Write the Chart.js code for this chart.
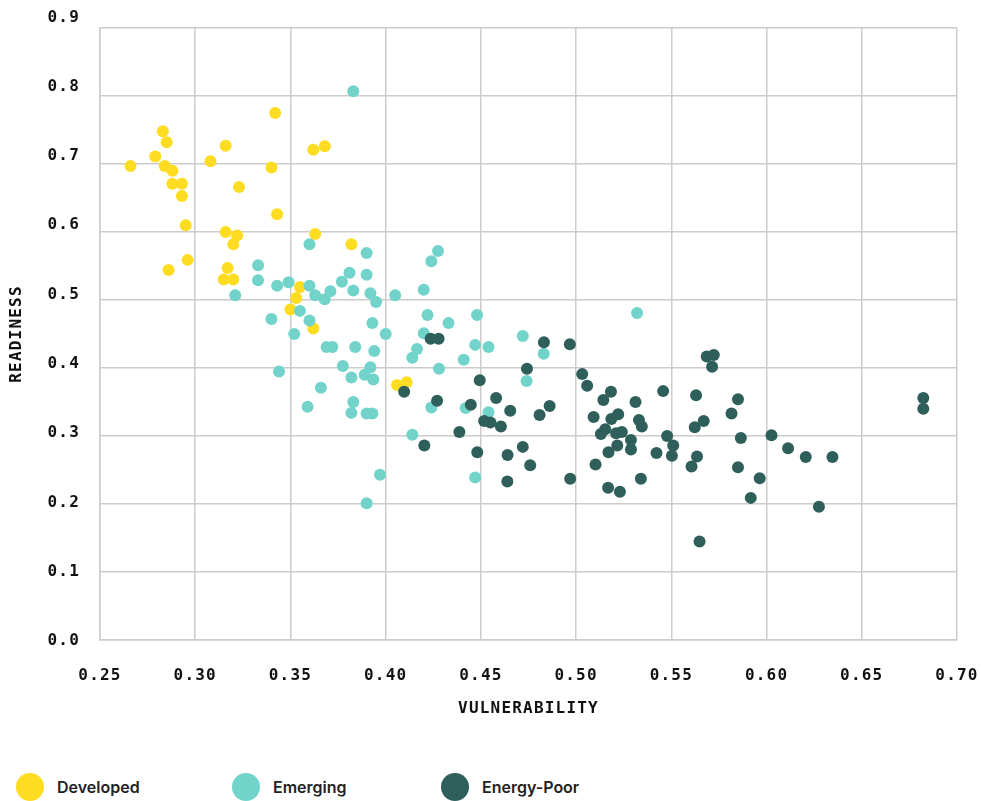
<!DOCTYPE html>
<html>
<head>
<meta charset="utf-8">
<script src="https://cdn.jsdelivr.net/npm/chart.js@4/dist/chart.umd.min.js"></script>
<style>
html,body{margin:0;padding:0;background:#fff;overflow:hidden;width:981px;height:801px;}
#wrap{position:absolute;left:0;top:0;width:981px;height:725px;}
.leg{position:absolute;top:772px;height:29px;display:flex;align-items:center;font-family:Inter,'Noto Sans',sans-serif;font-weight:600;font-size:16px;color:#222;white-space:nowrap;}
.dot{display:inline-block;width:28px;height:28px;border-radius:50%;margin-right:13px;flex:none;}
</style>
</head>
<body>
<div id="wrap"><canvas id="c"></canvas></div>
<div class="leg" style="left:16px"><span class="dot" style="background:#FEDC22"></span>Developed</div>
<div class="leg" style="left:232px"><span class="dot" style="background:#72D3CB"></span>Emerging</div>
<div class="leg" style="left:441px"><span class="dot" style="background:#2F5F5A"></span>Energy-Poor</div>
<script>
// ---- Data ----
const seriesNames = ['Developed', 'Emerging', 'Energy-Poor'];
const xTickLabels = ['0.25','0.30','0.35','0.40','0.45','0.50','0.55','0.60','0.65','0.70'];
const yTickValues = [0,0.1,0.2,0.3,0.4,0.5,0.6,0.7,0.8,0.9];
const yTickLabels = ['0.0','0.1','0.2','0.3','0.4','0.5','0.6','0.7','0.8','0.9'];

const developedX = [0.342,0.283,0.285,0.316,0.362,0.368,0.279,0.308,0.266,0.284,0.340,0.288,0.288,0.293,0.323,0.293,0.343,0.295,0.316,0.322,0.363,0.320,0.382,0.296,0.286,0.317,0.315,0.320,0.355,0.353,0.350,0.362,0.406,0.411];
const developedY = [0.775,0.748,0.732,0.727,0.721,0.726,0.711,0.704,0.697,0.697,0.695,0.690,0.671,0.671,0.666,0.653,0.626,0.610,0.600,0.595,0.597,0.582,0.582,0.559,0.544,0.547,0.530,0.530,0.519,0.503,0.486,0.458,0.375,0.379];

const emergingX = [0.383,0.333,0.333,0.343,0.349,0.360,0.360,0.321,0.363,0.390,0.4275,0.424,0.381,0.390,0.377,0.368,0.371,0.383,0.392,0.395,0.405,0.420,0.422,0.420,0.355,0.340,0.360,0.352,0.393,0.400,0.369,0.372,0.384,0.394,0.4165,0.414,0.3775,0.392,0.389,0.3935,0.382,0.344,0.366,0.428,0.424,0.383,0.359,0.382,0.390,0.393,0.414,0.441,0.433,0.448,0.447,0.454,0.472,0.483,0.474,0.442,0.454,0.447,0.397,0.390,0.532];
const emergingY = [0.807,0.551,0.529,0.521,0.526,0.582,0.521,0.507,0.507,0.569,0.572,0.557,0.540,0.537,0.527,0.501,0.513,0.514,0.510,0.497,0.507,0.515,0.478,0.451,0.484,0.472,0.470,0.450,0.466,0.450,0.431,0.431,0.431,0.425,0.428,0.415,0.403,0.401,0.390,0.383,0.386,0.395,0.371,0.399,0.342,0.350,0.343,0.334,0.333,0.333,0.302,0.412,0.466,0.478,0.434,0.431,0.447,0.421,0.381,0.341,0.335,0.239,0.243,0.201,0.481];

const energyPoorX = [0.4236,0.4278,0.4097,0.4494,0.458,0.427,0.4447,0.4517,0.455,0.4605,0.4387,0.4203,0.4481,0.4831,0.4967,0.4742,0.5032,0.5058,0.5183,0.5143,0.4654,0.4861,0.4808,0.5092,0.5185,0.5221,0.5153,0.513,0.521,0.524,0.5216,0.5288,0.5288,0.517,0.5102,0.464,0.472,0.4759,0.4639,0.4969,0.5168,0.523,0.5312,0.5457,0.5686,0.5723,0.5714,0.563,0.585,0.5816,0.533,0.5345,0.534,0.5478,0.551,0.5503,0.5422,0.5623,0.567,0.5635,0.5606,0.5865,0.6026,0.585,0.5964,0.5917,0.5648,0.6823,0.6823,0.6113,0.6206,0.6346,0.6275];
const energyPoorY = [0.443,0.443,0.365,0.382,0.356,0.352,0.346,0.322,0.320,0.314,0.306,0.286,0.276,0.438,0.435,0.399,0.391,0.374,0.365,0.353,0.337,0.344,0.331,0.328,0.325,0.332,0.310,0.303,0.304,0.306,0.286,0.294,0.280,0.276,0.258,0.272,0.284,0.257,0.233,0.237,0.224,0.218,0.350,0.366,0.417,0.419,0.402,0.360,0.354,0.333,0.3235,0.314,0.237,0.300,0.286,0.271,0.275,0.313,0.322,0.270,0.255,0.297,0.301,0.254,0.238,0.209,0.145,0.356,0.340,0.282,0.269,0.269,0.196];

const toPoints = (xs, ys) => xs.map((x, i) => ({x: x, y: ys[i]}));

const spacingPlugin = {
  id: 'letterSpacing',
  beforeUpdate(c) { c.ctx.letterSpacing = '1.2px'; },
  beforeLayout(c) { c.ctx.letterSpacing = '1.2px'; },
  beforeDraw(c) { c.ctx.letterSpacing = '1.2px'; }
};

const axisFont = {family: "'DejaVu Sans Mono', 'Liberation Mono', monospace", weight: 'bold', size: 16};
const gridColor = '#cccccc';

new Chart(document.getElementById('c'), {
  type: 'scatter',
  data: {
    datasets: [
      {label: seriesNames[0], data: toPoints(developedX, developedY), backgroundColor: '#FEDC22', order: 3},
      {label: seriesNames[1], data: toPoints(emergingX, emergingY), backgroundColor: '#72D3CB', order: 2},
      {label: seriesNames[2], data: toPoints(energyPoorX, energyPoorY), backgroundColor: '#2F5F5A', order: 1}
    ]
  },
  options: {
    responsive: true,
    maintainAspectRatio: false,
    animation: false,
    layout: {padding: {top: 28, right: 24, left: 0, bottom: 0}},
    elements: {point: {radius: 6, hoverRadius: 6, borderWidth: 0}},
    plugins: {legend: {display: false}, tooltip: {enabled: false}},
    scales: {
      x: {
        type: 'linear', min: 0.25, max: 0.70,
        ticks: {stepSize: 0.05, padding: 26, color: '#111', font: axisFont,
                callback: (v, i) => xTickLabels[i]},
        grid: {color: gridColor, lineWidth: 1.5, drawTicks: false},
        border: {color: gridColor, width: 1.5},
        title: {display: true, text: 'VULNERABILITY', color: '#111', font: axisFont, padding: {top: 0, bottom: 7}},
        afterFit(s) { s.height = 85; s.paddingLeft = 0; s.paddingRight = 0; }
      },
      y: {
        type: 'linear', position: 'left', weight: 0, min: 0, max: 0.9,
        ticks: {display: false, stepSize: 0.1},
        grid: {color: gridColor, lineWidth: 1.5, drawTicks: false},
        border: {color: gridColor, width: 1.5},
        afterFit(s) { s.width = 0; s.paddingTop = 0; s.paddingBottom = 0; }
      },
      yLabels: {
        type: 'linear', position: 'left', weight: 1, min: 0.0014, max: 0.8848,
        afterBuildTicks(s) { s.ticks = yTickValues.map(v => ({value: v})); },
        ticks: {padding: 20, color: '#111', font: axisFont,
                callback: (v, i) => yTickLabels[i]},
        grid: {display: false, drawTicks: false},
        border: {display: false},
        title: {display: true, text: 'READINESS', color: '#111', font: axisFont, padding: {top: 7, bottom: 0}},
        afterFit(s) { s.width = 100; s.paddingTop = 0; s.paddingBottom = 0; }
      }
    }
  },
  plugins: [spacingPlugin]
});
</script>
</body>
</html>
